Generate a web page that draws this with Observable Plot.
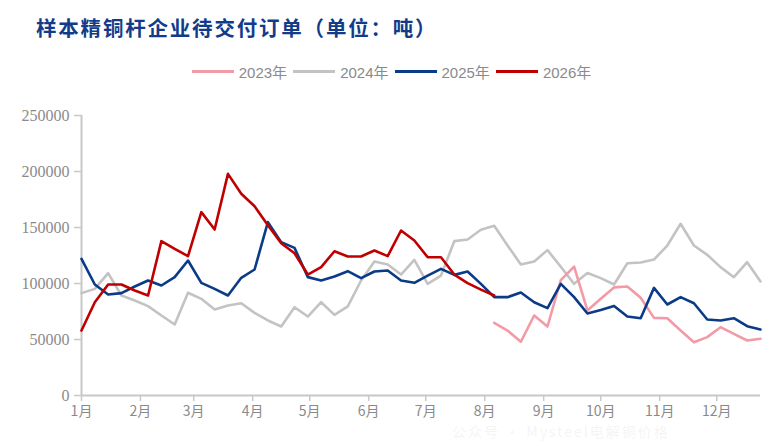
<!DOCTYPE html>
<html>
<head>
<meta charset="utf-8">
<script src="https://cdn.jsdelivr.net/npm/d3@7"></script>
<script src="https://cdn.jsdelivr.net/npm/@observablehq/plot@0.6"></script>
<style>
  html, body { margin: 0; padding: 0; background: #fff; }
  #wrap { position: relative; width: 783px; height: 443px; overflow: hidden; }
  #title { position: absolute; left: 36px; top: 12px; font-family: "Noto Sans CJK SC", sans-serif; font-weight: 700; font-size: 20.5px; letter-spacing: 1.8px; color: #123c8a; white-space: nowrap; }
  #legend { position: absolute; left: 0; right: 0; top: 59px; text-align: center; font-family: "Liberation Sans", "Noto Sans CJK SC", sans-serif; font-size: 15px; color: #8a8a8a; white-space: nowrap; }
  .item { display: inline-flex; align-items: center; margin: 0 3px; }
  .sw { display: inline-block; width: 42px; height: 3px; margin-right: 5px; }
  #plot { position: absolute; left: 0; top: 0; }
  #wm { position: absolute; left: 452px; top: 421px; font-family: "Noto Sans CJK SC", sans-serif; font-size: 14px; color: rgba(225,225,225,0.35); white-space: nowrap; letter-spacing: 2px; }
</style>
</head>
<body>
<div id="wrap">
  <div id="plot"></div>
  <div id="title">样本精铜杆企业待交付订单（单位：吨）</div>
  <div id="legend"></div>
  <div id="wm">公众号 · Mysteel电解铜价格</div>
</div>
<script>
// Series names and colours
const seriesNames = ["2023年", "2024年", "2025年", "2026年"];
const seriesColors = ["#f29aa5", "#c3c3c3", "#0b3b87", "#c00000"];

// Weekly values (52 weeks, index 0 = first week of Jan); null = no data
const v2023 = [null,null,null,null,null,null,null,null,null,null,
  null,null,null,null,null,null,null,null,null,null,
  null,null,null,null,null,null,null,null,null,null,
  null,64900,58000,48000,71400,61600,103000,115000,75900,86300,
  96500,97300,87200,69300,69000,58000,47600,52100,61000,55000,
  49100,50600];
const v2024 = [91400,95200,109200,89300,84800,79800,71400,63400,91700,86300,
  76800,80400,82400,73800,67000,61600,78800,70500,83300,72000,
  79500,102700,119600,117000,108000,121100,99700,107100,137800,139300,
  148000,151500,134000,117000,119600,129800,115000,99700,109400,104800,
  99100,118100,118800,121400,133900,153300,133900,125600,114600,105600,
  119000,101800];
const v2025 = [122000,99100,90200,91400,97300,102700,98200,105700,120500,100600,
  95200,89300,105100,112500,154800,136900,131800,105700,102700,106300,
  111000,104800,110700,111600,102700,100600,107100,113100,107700,110700,
  99700,87800,87800,92000,83300,78000,99700,87800,73200,76300,
  80000,70500,69000,96100,81250,87800,82400,67900,67000,69000,
  61900,58900];
const v2026 = [58000,83300,99100,99100,93750,89300,137800,131000,124400,163700,
  148200,197900,180100,169000,152000,136000,127000,108000,114600,128800,
  124100,124100,129500,124400,147300,138400,123500,123500,108000,100300,
  94500,89300];

const yTicks = [0, 50000, 100000, 150000, 200000, 250000];
const monthTicks = d3.range(12).map(m => new Date(Date.UTC(2025, m, 1)));
const weekDate = i => new Date(Date.UTC(2025, 0, 1 + 7 * i));

const allSeries = [v2023, v2024, v2025, v2026];
const rows = [];
allSeries.forEach((arr, s) => {
  arr.forEach((v, i) => rows.push({ series: seriesNames[s], date: weekDate(i), value: v }));
});

const chart = Plot.plot({
  width: 783,
  height: 443,
  marginTop: 115,
  marginBottom: 48,
  marginLeft: 81,
  marginRight: 23,
  style: { background: "transparent", overflow: "visible" },
  x: { type: "utc", domain: [weekDate(0), weekDate(51)] },
  y: { domain: [0, 250000] },
  color: { domain: seriesNames, range: seriesColors },
  marks: [
    Plot.ruleY([0], { stroke: "#c8c8c8", strokeWidth: 2 }),
    Plot.ruleX([weekDate(0)], { stroke: "#c8c8c8", strokeWidth: 2 }),
    Plot.axisY({ ticks: yTicks, tickSize: 7, tickPadding: 5, tickFormat: d => String(d),
      stroke: "#c8c8c8", strokeWidth: 1.5, fill: "#8a8a8a", fontSize: 16,
      fontFamily: "Liberation Serif, serif", label: null }),
    Plot.axisX({ ticks: monthTicks, tickSize: 6, tickPadding: 5,
      tickFormat: d => (d.getUTCMonth() + 1) + "月", stroke: "#c8c8c8", strokeWidth: 1.5,
      fill: "#8a8a8a", fontSize: 14, fontFamily: "Noto Sans CJK SC, sans-serif", label: null }),
    Plot.line(rows.filter(r => r.series === "2024年"), { x: "date", y: "value", stroke: "series", strokeWidth: 2.6, defined: d => d.value != null }),
    Plot.line(rows.filter(r => r.series === "2023年"), { x: "date", y: "value", stroke: "series", strokeWidth: 2.6, defined: d => d.value != null }),
    Plot.line(rows.filter(r => r.series === "2025年"), { x: "date", y: "value", stroke: "series", strokeWidth: 2.6, defined: d => d.value != null }),
    Plot.line(rows.filter(r => r.series === "2026年"), { x: "date", y: "value", stroke: "series", strokeWidth: 2.6, defined: d => d.value != null })
  ]
});
document.getElementById("plot").appendChild(chart);

const legend = document.getElementById("legend");
seriesNames.forEach((n, i) => {
  const it = document.createElement("span");
  it.className = "item";
  it.innerHTML = `<span class="sw" style="background:${seriesColors[i]}"></span><span>${n}</span>`;
  legend.appendChild(it);
});
</script>
</body>
</html>
